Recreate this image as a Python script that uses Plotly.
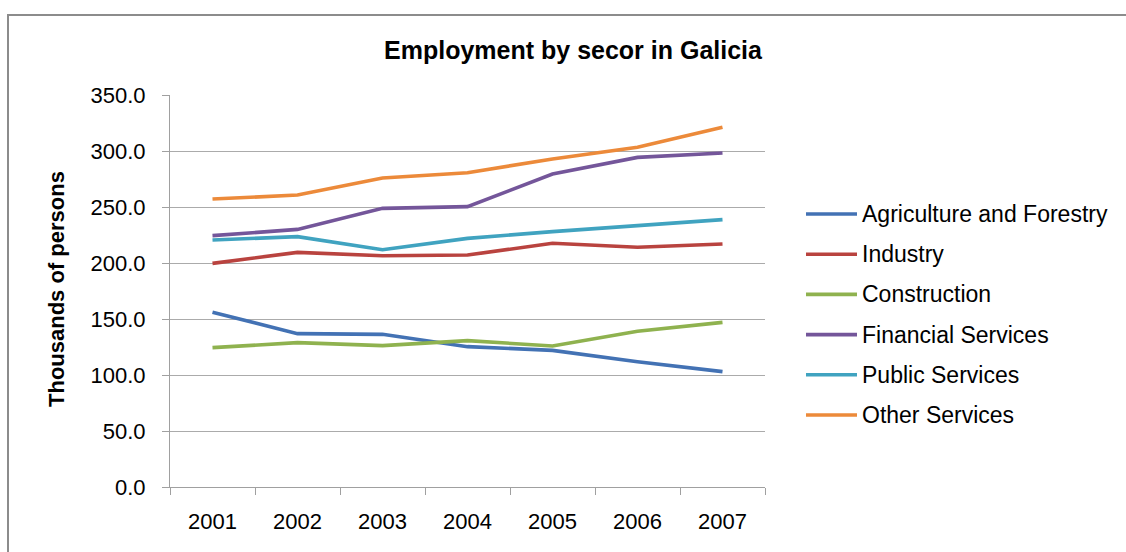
import plotly.graph_objects as go

years = ["2001", "2002", "2003", "2004", "2005", "2006", "2007"]
series_names = ["Agriculture and Forestry", "Industry", "Construction",
                "Financial Services", "Public Services", "Other Services"]
agriculture = [156.0, 136.9, 136.3, 125.3, 122.0, 111.9, 103.0]
industry = [199.7, 209.5, 206.5, 207.1, 217.6, 214.0, 217.0]
construction = [124.4, 128.9, 126.2, 130.7, 125.9, 139.0, 147.0]
financial = [224.4, 230.0, 248.8, 250.3, 279.5, 294.3, 298.2]
public = [220.5, 223.5, 211.9, 222.0, 228.0, 233.6, 238.7]
other = [257.1, 260.7, 275.9, 280.6, 292.9, 303.3, 321.2]
colors = ["#4372B4", "#B9433F", "#8FB24F", "#74569A", "#40A3C0", "#EC8A3A"]

values = [agriculture, industry, construction, financial, public, other]

# pixel geometry of plot area
W, H = 1126, 552
L, R, T, B = 170, 765, 95, 487
pw, ph = R - L, B - T


def px(x):
    return (x - L) / pw


def py(y):
    return (B - y) / ph


FONT = "Liberation Sans, Arial, sans-serif"

fig = go.Figure()
for name, vals, col in zip(series_names, values, colors):
    fig.add_trace(go.Scatter(x=years, y=vals, mode="lines", name=name,
                             line=dict(color=col, width=3.6),
                             showlegend=False))

shapes = [dict(type="rect", xref="paper", yref="paper",
               x0=px(8), x1=px(1160), y0=py(590), y1=py(15),
               line=dict(color="#8c8c8c", width=2), fillcolor="rgba(0,0,0,0)",
               layer="below")]
annotations = []
legend_y0, legend_step = 214, 40.2
for i, (name, col) in enumerate(zip(series_names, colors)):
    yc = legend_y0 + i * legend_step
    shapes.append(dict(type="line", xref="paper", yref="paper",
                       x0=px(806), x1=px(857), y0=py(yc), y1=py(yc),
                       line=dict(color=col, width=3.6)))
    annotations.append(dict(text=name, xref="paper", yref="paper",
                            x=px(860), y=py(yc), xanchor="left", yanchor="middle",
                            showarrow=False,
                            font=dict(family=FONT, size=23, color="#000000")))

annotations.append(dict(text="<b>Thousands of persons</b>", xref="paper", yref="paper",
                        x=px(56), y=py(289), textangle=-90, showarrow=False,
                        xanchor="center", yanchor="middle",
                        font=dict(family=FONT, size=22, color="#000000")))

fig.update_layout(
    width=W, height=H,
    margin=dict(l=L, r=W - R, t=T, b=H - B, pad=0),
    paper_bgcolor="white", plot_bgcolor="white",
    title=dict(text="<b>Employment by secor in Galicia</b>", xref="paper", x=px(573),
               xanchor="center", yref="container", y=1 - 50 / H, yanchor="middle",
               font=dict(family=FONT, size=25, color="#000000")),
    xaxis=dict(type="category", range=[-0.5, 6.5], tickson="boundaries",
               ticks="outside", ticklen=7,
               tickcolor="#a0a0a0", showline=True, linecolor="#a0a0a0", linewidth=1,
               showgrid=False, ticklabelstandoff=15,
               tickfont=dict(family=FONT, size=22, color="#000000")),
    yaxis=dict(range=[0, 350], dtick=50, tickformat=".1f", ticks="outside", ticklen=7,
               tickcolor="#a0a0a0", showline=True, linecolor="#a0a0a0", linewidth=1,
               showgrid=True, gridcolor="#ababab", gridwidth=1, zeroline=False,
               ticklabelstandoff=12,
               tickfont=dict(family=FONT, size=22, color="#000000")),
    shapes=shapes, annotations=annotations,
)

fig.write_html("out.html")
